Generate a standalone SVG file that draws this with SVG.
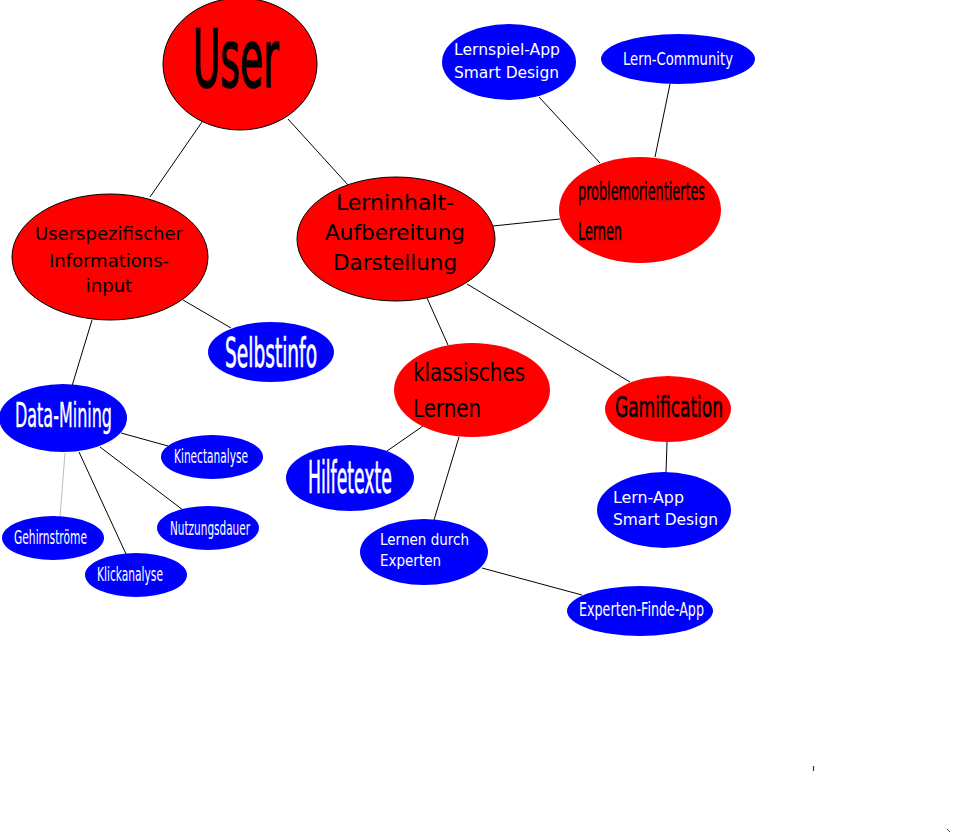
<svg xmlns="http://www.w3.org/2000/svg" width="953" height="836" viewBox="0 0 953 836">
<style>
.r{fill:#ff0000}
.rs{fill:#ff0000;stroke:#000;stroke-width:1}
.b{fill:#0000ff}
.tk{fill:#000;font-family:"DejaVu Sans Condensed","DejaVu Sans",sans-serif}
.tw{fill:#fff;font-family:"DejaVu Sans Condensed","DejaVu Sans",sans-serif}
.nk{fill:#000;font-family:"DejaVu Sans",sans-serif}
.nw{fill:#fff;font-family:"DejaVu Sans",sans-serif}
.hk{stroke:#000;stroke-width:1.6}
.hw{stroke:#fff;stroke-width:0.7}
.c line{stroke:#000;stroke-width:1}
</style>
<rect width="953" height="836" fill="#fff"/>
<g id="connectors" class="c">
<line x1="202" y1="122" x2="150" y2="197"/>
<line x1="288" y1="119" x2="348" y2="185"/>
<line x1="92" y1="320" x2="72" y2="386"/>
<line x1="183" y1="300" x2="231" y2="328"/>
<line x1="121" y1="433" x2="168" y2="446"/>
<line x1="100" y1="447" x2="183" y2="510"/>
<line x1="79" y1="452" x2="126" y2="554"/>
<line x1="65" y1="453" x2="60" y2="517" style="stroke:#bbbbbb"/>
<line x1="493" y1="226" x2="560" y2="219"/>
<line x1="539" y1="97" x2="600" y2="163"/>
<line x1="670" y1="84" x2="655" y2="157"/>
<line x1="427" y1="298" x2="448" y2="345"/>
<line x1="467" y1="284" x2="630" y2="382"/>
<line x1="423" y1="426" x2="387" y2="451"/>
<line x1="459" y1="437" x2="434" y2="520"/>
<line x1="482" y1="568" x2="582" y2="595"/>
<line x1="667" y1="442" x2="666" y2="473"/>
</g>
<g id="user">
<ellipse class="rs" cx="240" cy="64" rx="77" ry="66"/>
<text class="tk hk" x="236" y="87" font-size="80" text-anchor="middle" textLength="86" lengthAdjust="spacingAndGlyphs">User</text>
</g>
<g id="userspezifischer">
<ellipse class="rs" cx="110" cy="257" rx="98" ry="63"/>
<text class="nk" font-size="18" text-anchor="middle"><tspan x="109" y="240">Userspezifischer</tspan><tspan x="109" y="267">Informations-</tspan><tspan x="109" y="292">input</tspan></text>
</g>
<g id="lerninhalt">
<ellipse class="rs" cx="396" cy="239" rx="99" ry="62"/>
<text class="nk" x="395" y="210" font-size="22" text-anchor="middle" textLength="118" lengthAdjust="spacingAndGlyphs">Lerninhalt-</text>
<text class="nk" x="395" y="240" font-size="22" text-anchor="middle" textLength="140" lengthAdjust="spacingAndGlyphs">Aufbereitung</text>
<text class="nk" x="395" y="270" font-size="22" text-anchor="middle" textLength="124" lengthAdjust="spacingAndGlyphs">Darstellung</text>
</g>
<g id="problemorientiertes">
<ellipse class="r" cx="640" cy="210" rx="81" ry="53"/>
<text class="tk" x="578" y="200" font-size="25" textLength="127" lengthAdjust="spacingAndGlyphs" stroke="#000" stroke-width="0.4">problemorientiertes</text>
<text class="tk" x="578" y="240" font-size="25" textLength="44" lengthAdjust="spacingAndGlyphs" stroke="#000" stroke-width="0.4">Lernen</text>
</g>
<g id="lernspiel">
<ellipse class="b" cx="509" cy="62" rx="67" ry="38"/>
<text class="nw" x="454" y="55" font-size="16" textLength="106" lengthAdjust="spacingAndGlyphs">Lernspiel-App</text>
<text class="nw" x="454" y="78" font-size="16" textLength="105" lengthAdjust="spacingAndGlyphs">Smart Design</text>
</g>
<g id="lerncommunity">
<ellipse class="b" cx="678" cy="59" rx="77" ry="25"/>
<text class="tw" x="678" y="65" font-size="18" text-anchor="middle" textLength="110" lengthAdjust="spacingAndGlyphs">Lern-Community</text>
</g>
<g id="selbstinfo">
<ellipse class="b" cx="271" cy="352" rx="63" ry="30"/>
<text class="tw hw" x="271" y="367" font-size="41" text-anchor="middle" textLength="92" lengthAdjust="spacingAndGlyphs">Selbstinfo</text>
</g>
<g id="datamining">
<ellipse class="b" cx="63" cy="418" rx="64" ry="34"/>
<text class="tw" x="63.5" y="427" font-size="34" text-anchor="middle" textLength="97" lengthAdjust="spacingAndGlyphs" stroke="#fff" stroke-width="0.4">Data-Mining</text>
</g>
<g id="kinectanalyse">
<ellipse class="b" cx="212" cy="457" rx="51" ry="22"/>
<text class="tw" x="211" y="463" font-size="19" text-anchor="middle" textLength="74" lengthAdjust="spacingAndGlyphs">Kinectanalyse</text>
</g>
<g id="nutzungsdauer">
<ellipse class="b" cx="208" cy="528" rx="51" ry="22"/>
<text class="tw" x="210" y="535" font-size="19" text-anchor="middle" textLength="80" lengthAdjust="spacingAndGlyphs">Nutzungsdauer</text>
</g>
<g id="gehirnstroeme">
<ellipse class="b" cx="53" cy="538" rx="51" ry="22"/>
<text class="tw" x="50.5" y="544" font-size="19" text-anchor="middle" textLength="73" lengthAdjust="spacingAndGlyphs">Gehirnströme</text>
</g>
<g id="klickanalyse">
<ellipse class="b" cx="136" cy="575" rx="51" ry="22"/>
<text class="tw" x="130" y="581" font-size="19" text-anchor="middle" textLength="66" lengthAdjust="spacingAndGlyphs">Klickanalyse</text>
</g>
<g id="klassisches">
<ellipse class="r" cx="472" cy="390" rx="78" ry="47"/>
<text class="tk" x="413" y="381" font-size="24" textLength="112" lengthAdjust="spacingAndGlyphs">klassisches</text>
<text class="tk" x="413" y="417" font-size="24" textLength="68" lengthAdjust="spacingAndGlyphs">Lernen</text>
</g>
<g id="gamification">
<ellipse class="r" cx="668" cy="409" rx="63" ry="33"/>
<text class="tk" x="669" y="417" font-size="29" text-anchor="middle" textLength="108" lengthAdjust="spacingAndGlyphs" stroke="#000" stroke-width="0.5">Gamification</text>
</g>
<g id="hilfetexte">
<ellipse class="b" cx="350" cy="478" rx="64" ry="33"/>
<text class="tw hw" x="350" y="493" font-size="44" text-anchor="middle" textLength="84" lengthAdjust="spacingAndGlyphs">Hilfetexte</text>
</g>
<g id="lernapp">
<ellipse class="b" cx="664" cy="510" rx="67" ry="38"/>
<text class="nw" x="613" y="503" font-size="16" textLength="71" lengthAdjust="spacingAndGlyphs">Lern-App</text>
<text class="nw" x="613" y="525" font-size="16" textLength="105" lengthAdjust="spacingAndGlyphs">Smart Design</text>
</g>
<g id="lernendurch">
<ellipse class="b" cx="424" cy="552" rx="64" ry="33"/>
<text class="nw" x="380" y="545" font-size="15" textLength="89" lengthAdjust="spacingAndGlyphs">Lernen durch</text>
<text class="nw" x="380" y="566" font-size="15" textLength="61" lengthAdjust="spacingAndGlyphs">Experten</text>
</g>
<g id="expertenfinde">
<ellipse class="b" cx="640" cy="611" rx="73" ry="25"/>
<text class="tw" x="641.5" y="616" font-size="20" text-anchor="middle" textLength="125" lengthAdjust="spacingAndGlyphs">Experten-Finde-App</text>
</g>
<g id="marks">
<line x1="813.5" y1="766" x2="813.5" y2="771" stroke="#333" stroke-width="1.2"/>
<line x1="947" y1="829" x2="950" y2="832" stroke="#444" stroke-width="1"/>
</g>
</svg>
